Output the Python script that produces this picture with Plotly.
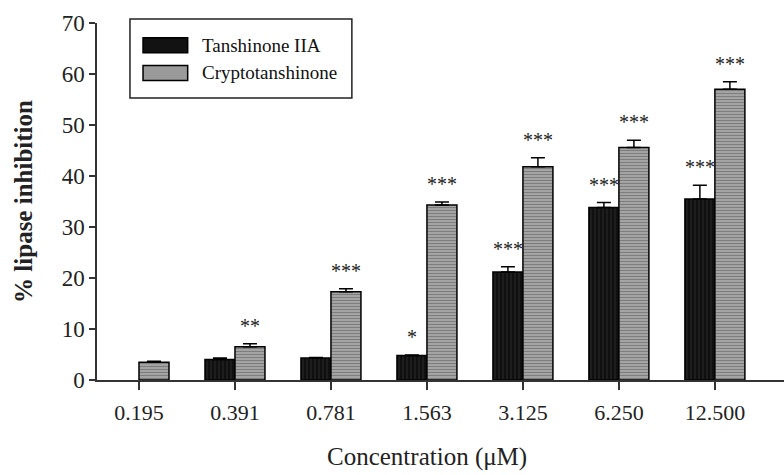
import plotly.graph_objects as go

categories = ["0.195", "0.391", "0.781", "1.563", "3.125", "6.250", "12.500"]
tanshinone = [None, 4.0, 4.3, 4.8, 21.2, 33.8, 35.5]
tanshinone_err = [0, 0.3, 0.1, 0.1, 1.0, 1.0, 2.7]
crypto = [3.5, 6.5, 17.3, 34.3, 41.8, 45.6, 57.0]
crypto_err = [0.2, 0.6, 0.6, 0.6, 1.8, 1.4, 1.5]
tanshinone_sig = ["", "", "", "*", "***", "***", "***"]
crypto_sig = ["", "**", "***", "***", "***", "***", "***"]
series_names = ["Tanshinone IIA", "Cryptotanshinone"]
x_title = "Concentration (μM)"
y_title = "% lipase inhibition"

SERIF = "Liberation Serif"
T_COLOR = "#121212"
C_COLOR = "#9a9a9a"

fig = go.Figure()
fig.add_trace(go.Bar(
    name=series_names[0], x=categories, y=tanshinone,
    marker=dict(color=T_COLOR, line=dict(color="black", width=1.5),
                pattern=dict(shape="|", fgcolor="#3a3a3a", bgcolor="#101010", size=4, solidity=0.3)),
    error_y=dict(type="data", array=tanshinone_err, arrayminus=[0]*7, symmetric=False,
                 color="black", thickness=1.5, width=7),
))
fig.add_trace(go.Bar(
    name=series_names[1], x=categories, y=crypto,
    marker=dict(color=C_COLOR, line=dict(color="black", width=1.5),
                pattern=dict(shape="-", fgcolor="#555555", bgcolor="#a4a4a4", size=3, solidity=0.35)),
    error_y=dict(type="data", array=crypto_err, arrayminus=[0]*7, symmetric=False,
                 color="black", thickness=1.5, width=7),
))

half = 0.625 / 4
annotations = []
for i, cat in enumerate(categories):
    for vals, errs, sig, off in ((tanshinone, tanshinone_err, tanshinone_sig, -half),
                                 (crypto, crypto_err, crypto_sig, half)):
        if sig[i] and vals[i] is not None:
            annotations.append(dict(
                x=i + off, y=vals[i] + errs[i], xref="x", yref="y", text=sig[i],
                showarrow=False, yanchor="bottom", yshift=5,
                font=dict(family=SERIF, size=20, color="#222"),
            ))

# custom legend (box, swatches, labels) in paper coordinates
shapes = [dict(type="rect", xref="paper", yref="paper", x0=0.048, x1=0.371, y0=0.790, y1=1.011,
               line=dict(color="#222", width=1.5), fillcolor="white", layer="above")]
legend_rows = [0.938, 0.860]
for name, color, yc in zip(series_names, [T_COLOR, C_COLOR], legend_rows):
    shapes.append(dict(type="rect", xref="paper", yref="paper", x0=0.067, x1=0.132,
                       y0=yc - 0.021, y1=yc + 0.021, line=dict(color="black", width=1.5),
                       fillcolor=color, layer="above"))
    annotations.append(dict(x=0.150, y=yc, xref="paper", yref="paper", text=name,
                            showarrow=False, xanchor="left", yanchor="middle",
                            font=dict(family=SERIF, size=19, color="#111")))

# x-axis title centred under the category span
annotations.append(dict(x=0.480, y=-0.215, xref="paper", yref="paper", text=x_title,
                        showarrow=False, xanchor="center", yanchor="middle",
                        font=dict(family=SERIF, size=25, color="#222")))

fig.update_layout(
    width=784, height=475,
    margin=dict(l=97, r=0, t=23, b=95),
    paper_bgcolor="white", plot_bgcolor="white",
    barmode="group", bargap=0.375, bargroupgap=0,
    annotations=annotations, shapes=shapes,
    showlegend=False,
    xaxis=dict(
        type="category", range=[-0.4375, 6.72],
        showline=True, linecolor="#333", linewidth=1.5,
        ticks="outside", ticklen=8, tickwidth=1.5, tickcolor="#333",
        ticklabelstandoff=4,
        tickfont=dict(family=SERIF, size=22, color="#222"),
        showgrid=False, zeroline=False, fixedrange=True,
    ),
    yaxis=dict(
        range=[0, 70], tickvals=[0, 10, 20, 30, 40, 50, 60, 70],
        showline=True, linecolor="#333", linewidth=1.5,
        ticks="outside", ticklen=6, tickwidth=1.5, tickcolor="#333",
        tickfont=dict(family=SERIF, size=23, color="#222"),
        title=dict(text="<b>" + y_title + "</b>", font=dict(family=SERIF, size=25, color="#222"), standoff=22),
        showgrid=False, zeroline=False, fixedrange=True,
    ),
)

fig.write_html("out.html")
